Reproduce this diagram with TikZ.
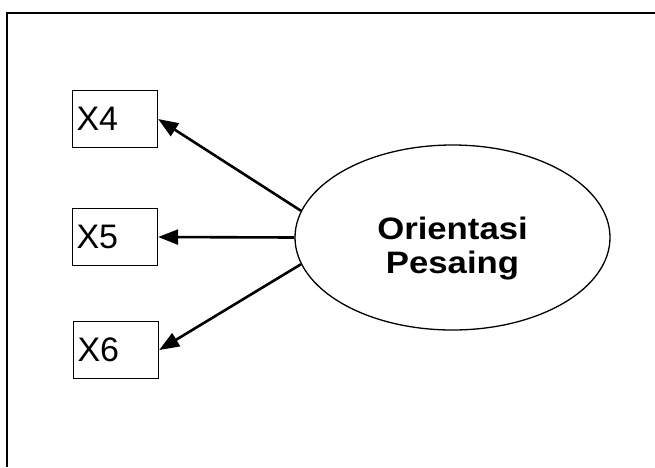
\documentclass[tikz,border=0pt]{standalone}
\usepackage{fontspec}
\setmainfont{Liberation Sans}
\usetikzlibrary{shapes.geometric,arrows.meta}

\tikzset{
  indicator/.style={draw, line width=1.3pt, rectangle, minimum width=85pt,
    minimum height=57pt, text width=77pt, inner xsep=4pt, align=left,
    font=\fontsize{34}{36}\selectfont},
  latent/.style={draw, line width=1.3pt, ellipse, minimum width=315pt,
    minimum height=185pt, inner sep=0pt},
  latentlabel/.style={align=center, inner sep=0pt,
    font=\fontsize{31}{34}\selectfont\bfseries},
  loading/.style={line width=2.6pt, -{Triangle[length=20pt,width=15pt]}},
  frame/.style={line width=1.8pt}
}

\begin{document}
\begin{tikzpicture}[x=1pt,y=-1pt]
  \useasboundingbox (0,0) rectangle (655,467);

  % outer frame (top and left edges)
  \draw[frame] (7,467) -- (7,13) -- (655,13);

  % observed indicators
  \node[indicator] (x4) at (115,119) {X4};
  \node[indicator] (x5) at (115,237) {X5};
  \node[indicator] (x6) at (116,350) {X6};

  % latent construct
  \node[latent] (lat) at (452.5,237.5) {};
  \node[latentlabel] (latname) at ([yshift=-11pt]lat.center)
    {\scalebox{1.12}[1]{Orientasi}\\\scalebox{1.12}[1]{Pesaing}};

  % loadings
  \draw[loading] (lat.170) -- (x4.east);
  \draw[loading] (lat.west) -- (x5.east);
  \draw[loading] (lat.190) -- (x6.east);
\end{tikzpicture}
\end{document}
